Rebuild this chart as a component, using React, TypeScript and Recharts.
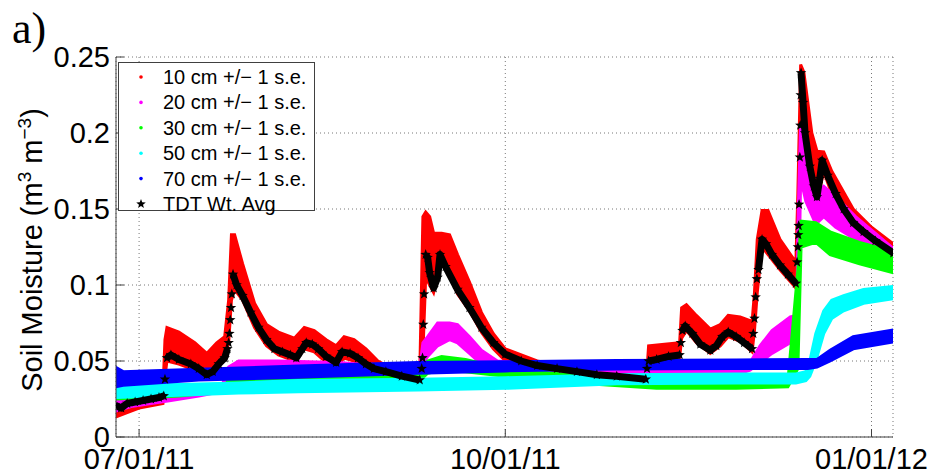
import React from "react";
import { ComposedChart, Area, Line, Scatter, XAxis, YAxis, CartesianGrid } from "recharts";

// time axis: days since 1 July 2011
const xTickDays = [0, 92, 184];
const xTickLabels = ["07/01/11", "10/01/11", "01/01/12"];
const yTicks = [0, 0.05, 0.1, 0.15, 0.2, 0.25];

// 10 cm probe: mean and standard error
const d10Days = [-6, -3, 0, 6, 6.5, 7, 10, 14, 17, 19.5, 21.5, 22.5, 23.2, 24, 26, 29, 32, 35, 39, 41.5, 44, 47, 49.5, 51.5, 54, 57, 60, 65, 70.5, 71.3, 72, 73, 74, 76, 78, 80, 83, 86, 89, 92, 100, 110, 120, 127.5, 128, 132, 135.8, 136.3, 137.5, 140, 143.5, 146, 148, 151, 154, 154.6, 155.3, 156.5, 158, 161, 165, 165.5, 166.2, 167, 169, 170.3, 172, 174, 179.4, 184, 189.5];
const d10Mean = [0.0195, 0.0215, 0.024, 0.0265, 0.052, 0.061, 0.0585, 0.053, 0.0475, 0.054, 0.059, 0.076, 0.1115, 0.115, 0.102, 0.08, 0.067, 0.0615, 0.0575, 0.065, 0.063, 0.0565, 0.053, 0.059, 0.057, 0.0515, 0.045, 0.04, 0.038, 0.1, 0.1265, 0.1225, 0.1145, 0.125, 0.12, 0.107, 0.0925, 0.0755, 0.063, 0.054, 0.0475, 0.043, 0.04, 0.038, 0.054, 0.0555, 0.057, 0.075, 0.0785, 0.071, 0.063, 0.067, 0.073, 0.071, 0.066, 0.0825, 0.1125, 0.137, 0.1345, 0.12, 0.1065, 0.135, 0.2225, 0.215, 0.1825, 0.1715, 0.181, 0.1675, 0.144, 0.1325, 0.1225];
const d10Se = [0.0065, 0.0055, 0.005, 0.0045, 0.012, 0.011, 0.0105, 0.009, 0.0075, 0.008, 0.007, 0.014, 0.0215, 0.018, 0.012, 0.008, 0.007, 0.0075, 0.0075, 0.007, 0.007, 0.0075, 0.007, 0.007, 0.007, 0.0065, 0.005, 0.003, 0.002, 0.045, 0.0215, 0.0225, 0.0195, 0.009, 0.013, 0.013, 0.0095, 0.0065, 0.005, 0.004, 0.0025, 0.002, 0.002, 0.002, 0.006, 0.0055, 0.005, 0.01, 0.0085, 0.009, 0.008, 0.007, 0.007, 0.008, 0.01, 0.0125, 0.0175, 0.012, 0.0145, 0.01, 0.0085, 0.025, 0.0225, 0.025, 0.0175, 0.0165, 0.0065, 0.0075, 0.006, 0.0055, 0.0045];

// 20 cm
const d20Days = [-6, -2, 3, 8, 15, 21, 22.5, 25, 35, 50, 60, 70.5, 71.3, 72.5, 75, 78, 80, 83, 86, 90, 100, 120, 140, 150, 153.5, 156, 159, 163.6, 165.2, 165.6, 166.2, 167.5, 170, 172, 175, 180, 189.5];
const d20Mean = [0.022, 0.024, 0.0255, 0.027, 0.0295, 0.0325, 0.041, 0.046, 0.0465, 0.046, 0.044, 0.0425, 0.055, 0.0595, 0.0675, 0.0695, 0.068, 0.0605, 0.0525, 0.0475, 0.046, 0.043, 0.042, 0.043, 0.0465, 0.0545, 0.0625, 0.0705, 0.0725, 0.115, 0.1875, 0.175, 0.15, 0.155, 0.148, 0.1375, 0.118];
const d20Se = [0.005, 0.004, 0.0035, 0.003, 0.0025, 0.0025, 0.005, 0.004, 0.0035, 0.003, 0.003, 0.0025, 0.007, 0.0065, 0.0075, 0.0055, 0.006, 0.0055, 0.0045, 0.0025, 0.002, 0.002, 0.002, 0.002, 0.0025, 0.0055, 0.0075, 0.0085, 0.0075, 0.035, 0.0175, 0.02, 0.01, 0.01, 0.01, 0.0075, 0.006];

// 30 cm
const d30Days = [-6, 10, 22, 22.5, 40, 70.5, 72.5, 76, 82, 92, 110, 130, 150, 163, 165.5, 166.3, 170, 173.6, 181, 189.5];
const d30Mean = [0.028, 0.0295, 0.0325, 0.037, 0.0385, 0.0395, 0.046, 0.0485, 0.047, 0.0425, 0.038, 0.034, 0.034, 0.035, 0.0775, 0.1335, 0.1345, 0.1275, 0.121, 0.115];
const d30Se = [0.003, 0.0025, 0.0025, 0.0025, 0.0025, 0.0025, 0.004, 0.0045, 0.004, 0.0025, 0.0025, 0.002, 0.002, 0.002, 0.0325, 0.0085, 0.0065, 0.0075, 0.007, 0.007];

// 50 cm
const d50Days = [-6, 10, 25, 40, 70, 92, 120, 150, 165, 167.5, 168.5, 170, 172, 174, 177, 182, 189.5];
const d50Mean = [0.03, 0.031, 0.0322, 0.0335, 0.0345, 0.0355, 0.038, 0.0385, 0.0385, 0.04, 0.045, 0.059, 0.0755, 0.084, 0.088, 0.0925, 0.095];
const d50Se = [0.004, 0.0035, 0.0033, 0.0037, 0.0035, 0.0035, 0.003, 0.003, 0.003, 0.003, 0.005, 0.009, 0.0075, 0.006, 0.005, 0.0045, 0.004];

// 70 cm
const d70Days = [-6, -4, 15, 40, 70, 92, 120, 150, 168, 170.3, 173.6, 179.4, 189.5];
const d70Mean = [0.0395, 0.0385, 0.041, 0.043, 0.0455, 0.0465, 0.0475, 0.0478, 0.048, 0.0485, 0.0535, 0.062, 0.0665];
const d70Se = [0.0065, 0.0045, 0.0035, 0.0037, 0.0035, 0.003, 0.0028, 0.0028, 0.003, 0.0025, 0.0035, 0.004, 0.004];

// depth-weighted TDT average, continuous trace
const tdtDays = [-6, -4.5, -3, -1, 1, 3, 5, 6.2, 7, 8, 10, 13, 15, 17, 18.5, 20, 21.5, 22.2, 23.6, 24.5, 26, 28, 30, 32, 34, 36, 38, 39.5, 41, 42, 43.5, 45, 47, 49.5, 51, 53, 55, 57, 59, 62, 66, 70.5, 72, 72.5, 73, 74, 75, 75.6, 77, 80, 83, 86, 89, 92, 96, 100, 105, 110, 115, 120, 127.3, 128, 130, 133, 135.8, 136.5, 137.2, 139, 141, 143.5, 145, 146.5, 148, 150, 152, 154, 155.6, 156.5, 157.5, 159, 161, 163, 165, 166.3, 166.8, 167.3, 168.5, 169.5, 170.3, 171, 171.6, 173, 175, 177, 179.4, 182, 185, 189.5];
const tdtVals = [0.021, 0.019, 0.022, 0.023, 0.024, 0.025, 0.026, 0.027, 0.052, 0.054, 0.051, 0.048, 0.045, 0.041, 0.043, 0.048, 0.052, 0.058, 0.107, 0.1, 0.093, 0.082, 0.072, 0.064, 0.058, 0.056, 0.054, 0.052, 0.058, 0.062, 0.061, 0.058, 0.053, 0.049, 0.056, 0.055, 0.052, 0.048, 0.045, 0.043, 0.04, 0.0375, 0.12, 0.118, 0.108, 0.098, 0.105, 0.12, 0.112, 0.097, 0.085, 0.072, 0.062, 0.0545, 0.05, 0.047, 0.045, 0.043, 0.041, 0.04, 0.038, 0.05, 0.051, 0.053, 0.054, 0.07, 0.073, 0.068, 0.061, 0.057, 0.06, 0.066, 0.069, 0.066, 0.062, 0.058, 0.11, 0.13, 0.127, 0.12, 0.113, 0.107, 0.101, 0.2395, 0.22, 0.2, 0.178, 0.165, 0.158, 0.17, 0.182, 0.172, 0.16, 0.15, 0.141, 0.135, 0.129, 0.121];

// sparse readings while a wetting front passes (trace is broken here)
const tdtFrontDays = [6.5, 22.5, 22.7, 22.9, 23.1, 23.3, 71, 71.2, 71.4, 71.6, 127.6, 136.1, 154.3, 154.6, 154.9, 155.2, 165.3, 165.5, 165.6, 165.7, 165.8, 166, 166.1, 166.2];
const tdtFrontVals = [0.038, 0.062, 0.068, 0.077, 0.085, 0.094, 0.045, 0.052, 0.074, 0.094, 0.045, 0.062, 0.068, 0.078, 0.092, 0.104, 0.115, 0.125, 0.133, 0.139, 0.153, 0.184, 0.205, 0.225];

const band = (days: number[], mean: number[], se: number[]) =>
  days.map((d, i) => ({ d, band: [mean[i] - se[i], mean[i] + se[i]] }));

const depths = [
  { name: "10 cm +/\u2212 1 s.e.", color: "#ff0000", data: band(d10Days, d10Mean, d10Se) },
  { name: "20 cm +/\u2212 1 s.e.", color: "#ff00ff", data: band(d20Days, d20Mean, d20Se) },
  { name: "30 cm +/\u2212 1 s.e.", color: "#00ff00", data: band(d30Days, d30Mean, d30Se) },
  { name: "50 cm +/\u2212 1 s.e.", color: "#00ffff", data: band(d50Days, d50Mean, d50Se) },
  { name: "70 cm +/\u2212 1 s.e.", color: "#0000ff", data: band(d70Days, d70Mean, d70Se) },
];
const tdtName = "TDT Wt. Avg";

const byDay = (a: { d: number }, b: { d: number }) => a.d - b.d;
const tdtTrace = [
  ...tdtDays.map((d, i) => ({ d, v: tdtVals[i] as number | null })),
  ...tdtFrontDays.map((d) => ({ d, v: null })),
].sort(byDay);
const tdtStars = [
  ...tdtDays.map((d, i) => ({ d, v: tdtVals[i] })),
  ...tdtFrontDays.map((d, i) => ({ d, v: tdtFrontVals[i] })),
].sort(byDay);

const FONT = "'Liberation Sans', Arial, Helvetica, sans-serif";
const AXIS = "#404040";

function starPoints(cx: number, cy: number, R: number, r: number) {
  const pts: string[] = [];
  for (let k = 0; k < 10; k++) {
    const rad = k % 2 === 0 ? R : r;
    const a = -Math.PI / 2 + (k * Math.PI) / 5;
    pts.push(`${cx + rad * Math.cos(a)},${cy + rad * Math.sin(a)}`);
  }
  return pts.join(" ");
}

const StarDot = (props: any) => {
  const { cx, cy } = props;
  if (cx == null || cy == null) return <g />;
  return <polygon points={starPoints(cx, cy, 5.5, 2.3)} fill="#000" />;
};

const XTick = (props: any) => {
  const { x, y, payload } = props;
  const label = xTickLabels[xTickDays.indexOf(payload.value)];
  return (
    <g>
      <line x1={x} x2={x} y1={y - 11} y2={y - 19} stroke={AXIS} />
      <text x={x} y={y} dy="0.71em" textAnchor="middle" fontSize={29} fontFamily={FONT} fill="#000">
        {label}
      </text>
    </g>
  );
};

const YTick = (props: any) => {
  const { x, y, payload } = props;
  return (
    <g>
      <line x1={x + 6} x2={x + 14} y1={y} y2={y} stroke={AXIS} />
      <text x={x} y={y} dy="0.355em" textAnchor="end" fontSize={29} fontFamily={FONT} fill="#000">
        {String(payload.value)}
      </text>
    </g>
  );
};

export default function App() {
  const W = 935;
  const H = 474;
  return (
    <div style={{ position: "absolute", left: 0, top: 0, width: W, height: H, background: "#fff" }}>
      <ComposedChart width={W} height={H} margin={{ top: 57, right: 42, bottom: 0, left: 0 }}>
        <CartesianGrid stroke="#777" strokeDasharray="1 3" />
        <XAxis
          type="number"
          dataKey="d"
          domain={[-5.8, 189.4]}
          allowDataOverflow
          ticks={xTickDays}
          height={37}
          tickSize={0}
          tickMargin={11}
          tick={<XTick />}
          axisLine={{ stroke: AXIS }}
        />
        <XAxis
          xAxisId="top"
          orientation="top"
          mirror
          type="number"
          dataKey="d"
          domain={[-5.8, 189.4]}
          allowDataOverflow
          ticks={xTickDays}
          height={0}
          tickSize={8}
          tick={false}
          tickLine={{ stroke: AXIS }}
          axisLine={{ stroke: AXIS }}
        />
        <YAxis
          type="number"
          domain={[0, 0.25]}
          allowDataOverflow
          ticks={yTicks}
          width={116}
          tickSize={0}
          tickMargin={6}
          tick={<YTick />}
          axisLine={{ stroke: AXIS }}
        />
        <YAxis
          yAxisId="right"
          orientation="right"
          mirror
          type="number"
          domain={[0, 0.25]}
          ticks={yTicks}
          width={0}
          tickSize={8}
          tick={false}
          tickLine={{ stroke: AXIS }}
          axisLine={{ stroke: AXIS }}
        />
        {depths.map((s) => (
          <Area
            key={s.name}
            name={s.name}
            data={s.data}
            dataKey="band"
            type="linear"
            stroke={s.color}
            strokeWidth={3}
            fill={s.color}
            fillOpacity={1}
            dot={false}
            activeDot={false}
            isAnimationActive={false}
          />
        ))}
        <Line
          name={tdtName}
          data={tdtTrace}
          dataKey="v"
          type="linear"
          stroke="#000"
          strokeWidth={7}
          strokeLinejoin="round"
          connectNulls={false}
          dot={false}
          activeDot={false}
          isAnimationActive={false}
        />
        <Scatter
          name={tdtName}
          data={tdtStars}
          dataKey="v"
          shape={StarDot}
          isAnimationActive={false}
        />
      </ComposedChart>
      <svg
        width={W}
        height={H}
        style={{ position: "absolute", left: 0, top: 0, pointerEvents: "none" }}
      >
        <text x={12} y={43} fontSize={44} fontFamily="'Liberation Serif', 'Times New Roman', serif" fill="#000">
          a)
        </text>
        <text
          x={42}
          y={250}
          transform="rotate(-90 42 250)"
          textAnchor="middle"
          fontSize={29}
          fontFamily={FONT}
          fill="#000"
        >
          Soil Moisture (m
          <tspan dy={-11} fontSize={19}>3</tspan>
          <tspan dy={11}> m</tspan>
          <tspan dy={-11} fontSize={19}>{"\u22123"}</tspan>
          <tspan dy={11}>)</tspan>
        </text>
        <g fontFamily={FONT} fontSize={20}>
          <rect x={118.5} y={62.5} width={196} height={148} fill="#fff" stroke={AXIS} />
          {depths.map((s, i) => (
            <g key={s.name}>
              <circle cx={141} cy={77 + i * 25.4} r={1.8} fill={s.color} />
              <text x={163} y={77 + i * 25.4 + 7} fill="#000">
                {s.name}
              </text>
            </g>
          ))}
          <polygon points={starPoints(141, 204, 5, 2.1)} fill="#000" />
          <text x={163} y={211} fill="#000">
            {tdtName}
          </text>
        </g>
      </svg>
    </div>
  );
}
